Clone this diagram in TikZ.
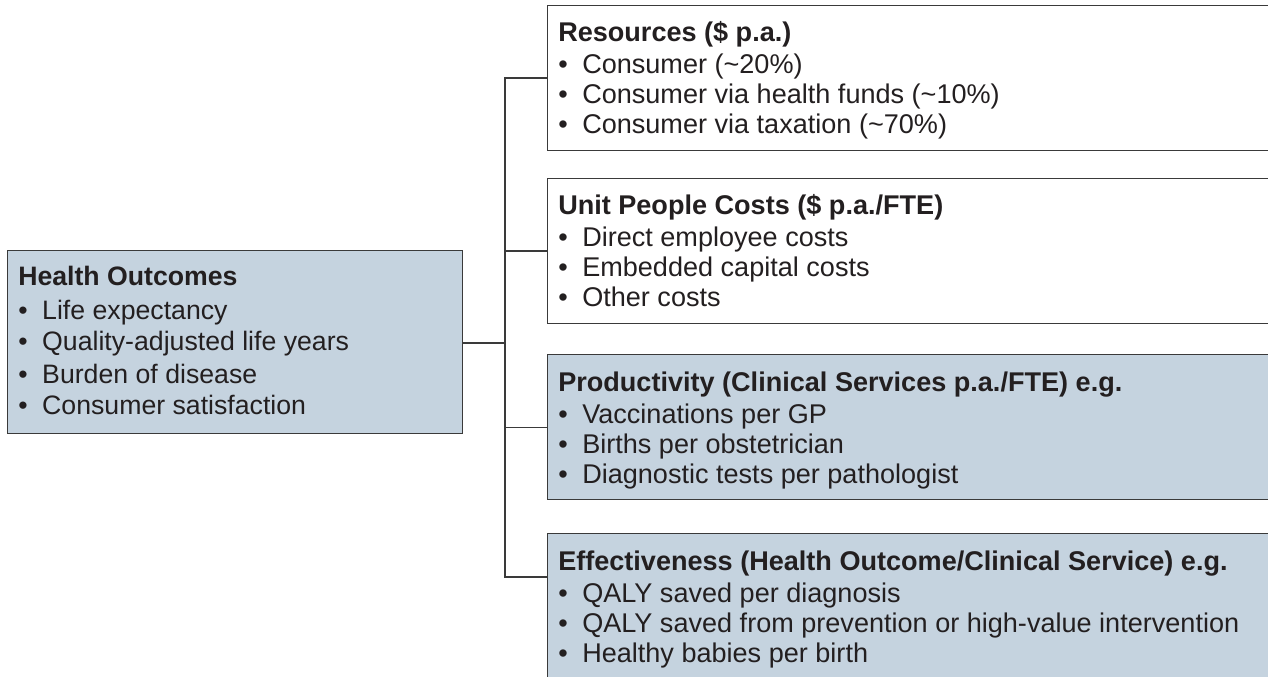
\documentclass[tikz,border=0pt]{standalone}
\usepackage{fontspec}
\setmainfont{Liberation Sans}
\usepackage{tikz}
\usetikzlibrary{positioning, calc}

\definecolor{boxblue}{RGB}{197,211,223}
\definecolor{edgegrey}{RGB}{58,58,58}
\definecolor{inkgrey}{RGB}{35,31,32}
\newcommand{\itm}[1]{\makebox[18pt][l]{\textbullet}#1}

\begin{document}
\begin{tikzpicture}[
    x=0.75pt, y=-0.75pt,
    box/.style={rectangle, draw=edgegrey, line width=1.1pt, inner sep=0pt,
                anchor=north west, minimum height=108.75pt, minimum width=564.75pt},
    bluebox/.style={box, fill=boxblue},
    txt/.style={anchor=base west, inner sep=0pt, align=left, text=inkgrey,
                font=\fontsize{20.3pt}{22.5pt}\selectfont},
    lefttxt/.style={txt, font=\fontsize{20pt}{24pt}\selectfont},
    conn/.style={draw=edgegrey, line width=1.1pt},
]
    \useasboundingbox (0,0) rectangle (1268,677);
    \clip (0,0) rectangle (1268,677);

    % Left box (text placed by its last baseline)
    \node[bluebox, minimum width=341.25pt, minimum height=137.25pt] (ho) at (7,250) {};
    \node[lefttxt] (hotxt) at ($(ho.north west)+(11,165)$)
        {\textbf{Health Outcomes}\\[0.75pt]
         \itm{Life expectancy}\\
         \itm{Quality-adjusted life years}\\
         \itm{Burden of disease}\\
         \itm{Consumer satisfaction}};

    % Right boxes
    \node[box] (res) at (547,5) {};
    \node[txt] (restxt) at ($(res.north west)+(11,129)$)
        {\textbf{Resources (\$ p.a.)}\\[1.5pt]
         \itm{Consumer (\textasciitilde20\%)}\\
         \itm{Consumer via health funds (\textasciitilde10\%)}\\
         \itm{Consumer via taxation (\textasciitilde70\%)}};

    \node[box] (upc) at (547,178) {};
    \node[txt] (upctxt) at ($(upc.north west)+(11,129)$)
        {\textbf{Unit People Costs (\$ p.a./FTE)}\\[1.5pt]
         \itm{Direct employee costs}\\
         \itm{Embedded capital costs}\\
         \itm{Other costs}};

    \node[bluebox] (prod) at (547,354) {};
    \node[txt] (prodtxt) at ($(prod.north west)+(11,129)$)
        {\textbf{Productivity (Clinical Services p.a./FTE) e.g.}\\[1.5pt]
         \itm{Vaccinations per GP}\\
         \itm{Births per obstetrician}\\
         \itm{Diagnostic tests per pathologist}};

    \node[bluebox, minimum height=120pt] (eff) at (547,533) {};
    \node[txt] (efftxt) at ($(eff.north west)+(11,129)$)
        {\textbf{Effectiveness (Health Outcome/Clinical Service) e.g.}\\[1.5pt]
         \itm{QALY saved per diagnosis}\\
         \itm{QALY saved from prevention or high-value intervention}\\
         \itm{Healthy babies per birth}};

    % Connectors
    \coordinate (bus) at (505,343);
    \coordinate (efftap) at (547,577);
    \draw[conn, line width=1.5pt] (ho.east |- bus) -- (bus);
    \draw[conn] (res.west) -| (bus);
    \draw[conn] (upc.west) -| (bus);
    \draw[conn] (prod.west) -| (bus);
    \draw[conn] (efftap) -| (bus);
\end{tikzpicture}
\end{document}
